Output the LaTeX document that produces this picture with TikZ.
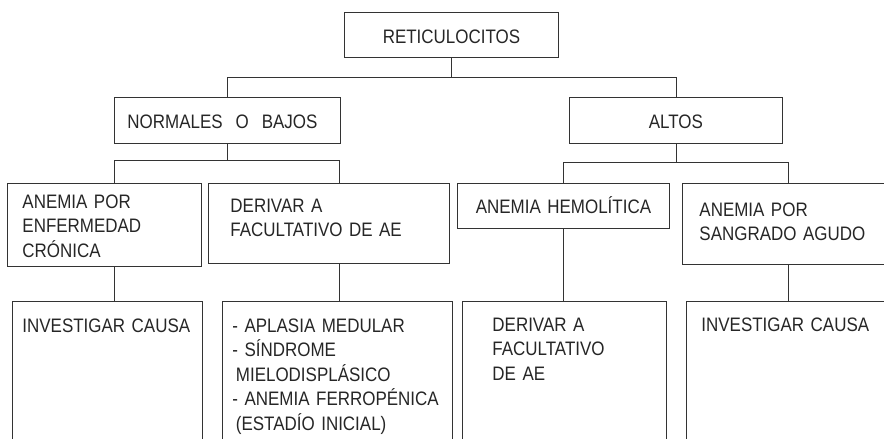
\documentclass[tikz,border=0pt]{standalone}
\usepackage{fontspec}
\setmainfont{Liberation Sans}[FakeStretch=0.87]

\begin{document}
\begin{tikzpicture}[x=1pt,y=-1pt,
  caja/.style={draw=black!80, line width=0.9pt, anchor=north west, inner ysep=0pt,
    align=left, text=black!85, font=\fontsize{19.5}{24.5}\selectfont},
  rama/.style={draw=black!80, line width=0.9pt}]
\clip (0,0) rectangle (884,439);

% columnas de las ramas
\coordinate (c1) at (114,0);
\coordinate (c2) at (339,0);
\coordinate (c3) at (563,0);
\coordinate (c4) at (788,0);

% nivel 1 y 2
\node[caja, align=center, inner xsep=0pt, text width=214pt, text height=31pt, text depth=14pt] (retic) at (344,12) {RETICULOCITOS};
\node[caja, inner xsep=13pt, text width=200pt, text height=31pt, text depth=15pt] (normales) at (114,97) {NORMALES\hspace{13pt}O\hspace{13pt}BAJOS};
\node[caja, align=center, inner xsep=0pt, text width=213pt, text height=31pt, text depth=15pt] (altos) at (569,97) {ALTOS};

% nivel 3
\node[caja, inner xsep=15pt, text width=164pt, text height=25pt, text depth=58pt] (cronica) at (7,183) {ANEMIA POR\\ENFERMEDAD\\CRÓNICA};
\node[caja, inner xsep=22pt, text width=197pt, text height=29pt, text depth=51pt] (derivar) at (208,183) {DERIVAR A\\FACULTATIVO DE AE};
\node[caja, align=center, inner xsep=0pt, text width=212pt, text height=30pt, text depth=15pt] (hemolitica) at (457,183) {ANEMIA HEMOLÍTICA};
\node[caja, inner xsep=17pt, text width=196pt, text height=33pt, text depth=48pt] (sangrado) at (682,183) {ANEMIA POR\\SANGRADO AGUDO};

% nivel 4 (cajas abiertas por abajo)
\node[caja, inner xsep=10pt, text width=170pt, text height=31pt, text depth=160pt] (causa) at (12,301) {INVESTIGAR CAUSA};
\node[caja, inner xsep=10pt, text width=210pt, text height=31pt, text depth=160pt] (lista) at (222,301)
  {- APLASIA MEDULAR\\- SÍNDROME\\\hspace*{3.5pt}MIELODISPLÁSICO\\- ANEMIA FERROPÉNICA\\\hspace*{3.5pt}(ESTADÍO INICIAL)};
\node[caja, inner xsep=30pt, text width=144pt, text height=30pt, text depth=160pt] (facultativo) at (462,301) {DERIVAR A\\FACULTATIVO\\DE AE};
\node[caja, inner xsep=15pt, text width=200pt, text height=30pt, text depth=160pt] (causab) at (686,301) {INVESTIGAR CAUSA};

% conectores
\draw[rama] (retic.south) -- ++(0,20) -| (normales.north);
\draw[rama] (retic.south) -- ++(0,20) -| (altos.north);
\draw[rama] (normales.south) -- ++(0,17) -| (c1 |- cronica.north);
\draw[rama] (normales.south) -- ++(0,17) -| (c2 |- derivar.north);
\draw[rama] (altos.south) -- ++(0,19) -| (c3 |- hemolitica.north);
\draw[rama] (altos.south) -- ++(0,19) -| (c4 |- sangrado.north);
\draw[rama] (c1 |- cronica.south) -- (c1 |- causa.north);
\draw[rama] (c2 |- derivar.south) -- (c2 |- lista.north);
\draw[rama] (c3 |- hemolitica.south) -- (c3 |- facultativo.north);
\draw[rama] (c4 |- sangrado.south) -- (c4 |- causab.north);
\end{tikzpicture}
\end{document}
